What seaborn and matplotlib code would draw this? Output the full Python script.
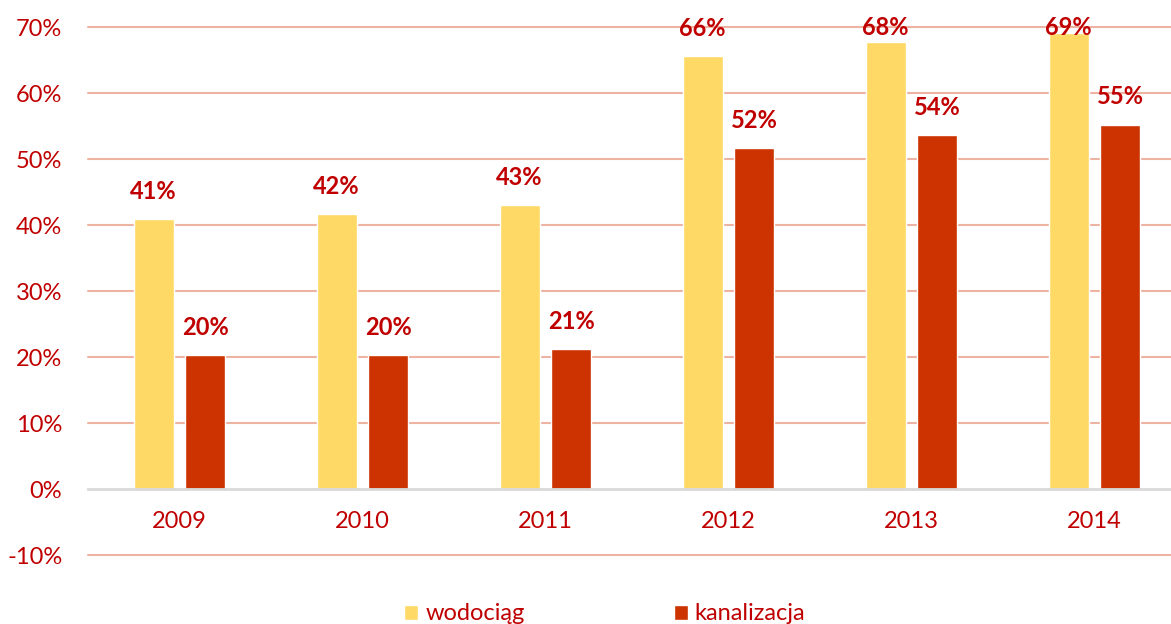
import matplotlib
matplotlib.use("Agg")
import matplotlib.pyplot as plt
import seaborn as sns
import pandas as pd
from matplotlib.ticker import PercentFormatter

years = ["2009", "2010", "2011", "2012", "2013", "2014"]
wodociag = [0.409, 0.417, 0.430, 0.656, 0.677, 0.691]
kanalizacja = [0.203, 0.203, 0.212, 0.517, 0.536, 0.552]
series_names = ["wodociąg", "kanalizacja"]

YELLOW = "#FFD966"
RED = "#CC3300"
TEXT = "#C00000"
GRID = "#EEB3A3"


def build_frame():
    rows = []
    for name, vals in zip(series_names, [wodociag, kanalizacja]):
        for y, v in zip(years, vals):
            rows.append({"rok": y, "seria": name, "udzial": v})
    return pd.DataFrame(rows)


def main():
    df = build_frame()
    sns.set_style("white")
    plt.rcParams["font.family"] = ["Lato", "DejaVu Sans"]
    plt.rcParams["axes.unicode_minus"] = False

    fig = plt.figure(figsize=(11.71, 6.24), dpi=100)
    # axes runs past the right edge, like the cropped original
    ax = fig.add_axes([88 / 1171, 1 - 555 / 624, 1098 / 1171, 528 / 624])

    sns.barplot(data=df, x="rok", y="udzial", hue="seria",
                palette=[YELLOW, RED], width=0.568, gap=0.23,
                saturation=1, ax=ax)

    ax.set_ylim(-0.1, 0.7)
    ax.set_xlim(-0.5, 5.5)
    ax.set_yticks([i / 10 for i in range(-1, 8)])
    ax.yaxis.set_major_formatter(PercentFormatter(1.0, decimals=0))
    ax.set_xlabel("")
    ax.set_ylabel("")

    # gridlines (salmon), zero line is the grey bottom spine
    for t in ax.get_yticks():
        if abs(t) > 1e-9:
            ax.axhline(t, color=GRID, lw=1.5, zorder=0.5, clip_on=False)
    for side in ["top", "right", "left"]:
        ax.spines[side].set_visible(False)
    ax.spines["bottom"].set_position(("data", 0))
    ax.spines["bottom"].set_color("#D9D9D9")
    ax.spines["bottom"].set_linewidth(2)

    ax.tick_params(axis="y", length=0, pad=18.5, labelsize=17, labelcolor=TEXT)
    ax.tick_params(axis="x", length=0, pad=16, labelsize=17, labelcolor=TEXT)

    # value labels, clamped to the top of the plot area
    for cont in ax.containers:
        for bar in cont:
            v = bar.get_height()
            y = min(v + 0.042, 0.699)
            ax.text(bar.get_x() + bar.get_width() / 2, y, f"{v:.0%}",
                    ha="center", va="center", fontsize=17, fontweight="bold",
                    color=TEXT, clip_on=False)

    handles, labels = ax.get_legend_handles_labels()
    ax.legend_.remove()
    fig.legend(handles, labels, loc="center", bbox_to_anchor=(0.5165, 1 - 614 / 624),
               ncol=2, frameon=False, fontsize=17, labelcolor=TEXT,
               handlelength=0.6, handleheight=0.6, handletextpad=0.3,
               columnspacing=6.3)

    fig.savefig("out.png", dpi=100)


if __name__ == "__main__":
    main()
